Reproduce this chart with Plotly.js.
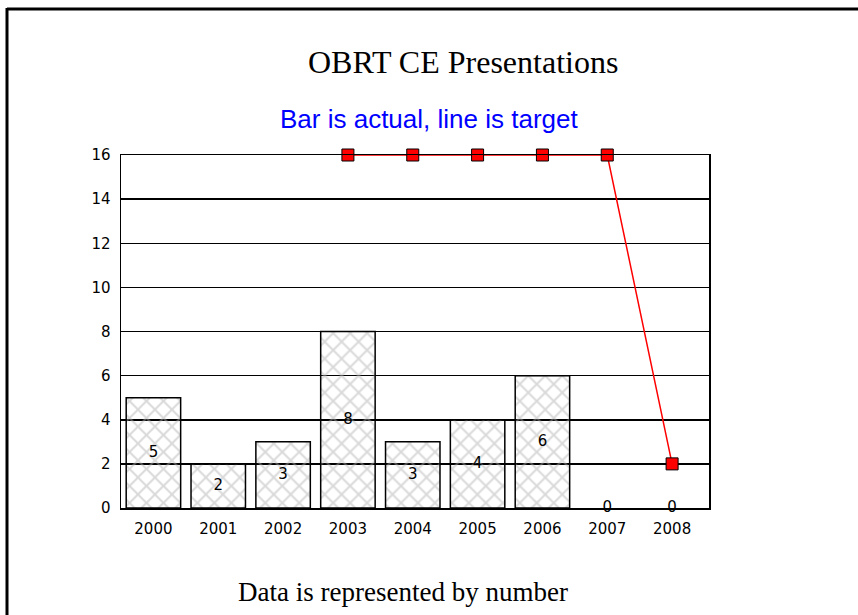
<!DOCTYPE html>
<html><head><meta charset="utf-8">
<script src="https://cdn.plot.ly/plotly-3.0.1.min.js"></script>
<style>html,body{margin:0;padding:0;background:#fff}#chart{width:858px;height:615px}</style>
</head><body><div id="chart"></div>
<script>
const years = ['2000','2001','2002','2003','2004','2005','2006','2007','2008'];
const actual = [5, 2, 3, 8, 3, 4, 6, 0, 0];
const targetYears = ['2003','2004','2005','2006','2007','2008'];
const target = [16, 16, 16, 16, 16, 2];
const yTicks = [0, 2, 4, 6, 8, 10, 12, 14, 16];

const tickFamily = 'DejaVu Sans, Arial, sans-serif';

const bars = {
  type: 'bar', x: years, y: actual,
  marker: {
    color: 'rgba(0,0,0,0)',
    line: {color: '#000', width: actual.map(v => v > 0 ? 1.5 : 0)},
    pattern: {shape: 'x', fgcolor: '#b4b4b4', bgcolor: 'rgba(0,0,0,0)', fillmode: 'overlay', size: 12, solidity: 0.3}
  },
  hoverinfo: 'skip', showlegend: false
};
const labels = {
  type: 'scatter', mode: 'text', x: years,
  y: actual.map(v => v / 2), text: actual.map(String),
  textposition: 'middle center',
  textfont: {family: tickFamily, size: 15, color: '#000'},
  cliponaxis: false,
  hoverinfo: 'skip', showlegend: false
};
const line = {
  type: 'scatter', mode: 'lines+markers', x: targetYears, y: target,
  line: {color: '#ff0000', width: 1.5},
  marker: {symbol: 'square', size: 12, color: '#ff0000', line: {color: '#000', width: 1}},
  cliponaxis: false,
  hoverinfo: 'skip', showlegend: false
};

const layout = {
  width: 858, height: 615,
  margin: {l: 121, r: 149, t: 155, b: 107},
  paper_bgcolor: '#fff', plot_bgcolor: '#fff',
  bargap: 0.16,
  font: {family: tickFamily, size: 15, color: '#000'},
  xaxis: {
    type: 'category', categoryorder: 'array', categoryarray: years,
    showline: true, linecolor: '#000', linewidth: 1.5, mirror: true,
    showgrid: false, ticks: '', ticklen: 0,
    tickfont: {family: tickFamily, size: 15}, ticklabelstandoff: 6, fixedrange: true
  },
  yaxis: {
    range: [0, 16], tickvals: yTicks, ticktext: yTicks.map(String),
    showline: true, linecolor: '#000', linewidth: 1.5, mirror: true,
    showgrid: true, gridcolor: '#000', gridwidth: 1.5, zeroline: false,
    ticks: '', tickfont: {family: tickFamily, size: 15}, ticklabelstandoff: 6, fixedrange: true
  },
  annotations: [
    {text: 'OBRT CE Presentations', xref: 'paper', yref: 'paper', x: (463 - 121) / 588, y: (508 - 62) / 353,
     showarrow: false, xanchor: 'center', yanchor: 'middle',
     font: {family: 'Liberation Serif, Times New Roman, serif', size: 32, color: '#000'}},
    {text: 'Bar is actual, line is target', xref: 'paper', yref: 'paper', x: (429 - 121) / 588, y: (508 - 119) / 353,
     showarrow: false, xanchor: 'center', yanchor: 'middle',
     font: {family: 'Liberation Sans, Arial, sans-serif', size: 26, color: '#0000ff'}},
    {text: 'Data is represented by number', xref: 'paper', yref: 'paper', x: (403 - 121) / 588, y: (508 - 592) / 353,
     showarrow: false, xanchor: 'center', yanchor: 'middle',
     font: {family: 'Liberation Serif, Times New Roman, serif', size: 27, color: '#000'}}
  ],
  shapes: [
    {type: 'line', xref: 'paper', yref: 'paper', x0: (7 - 121) / 588, x1: (860 - 121) / 588, y0: (508 - 9) / 353, y1: (508 - 9) / 353, line: {color: '#000', width: 3}},
    {type: 'line', xref: 'paper', yref: 'paper', x0: (7 - 121) / 588, x1: (7 - 121) / 588, y0: (508 - 8) / 353, y1: (508 - 620) / 353, line: {color: '#000', width: 3}}
  ]
};

Plotly.newPlot('chart', [bars, labels, line], layout, {displayModeBar: false, staticPlot: true});
</script></body></html>
